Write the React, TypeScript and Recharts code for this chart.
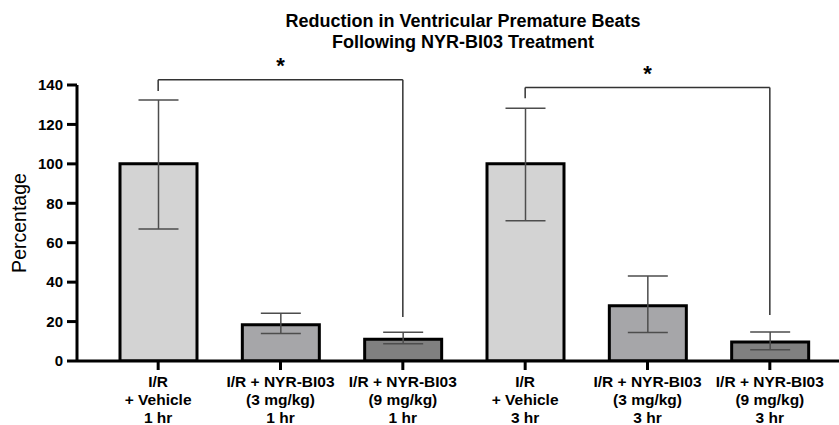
import { BarChart, Bar, XAxis, YAxis, ErrorBar, Cell, ReferenceLine } from 'recharts';

const groups = ['veh1', 'low1', 'high1', 'veh3', 'low3', 'high3'];
const labelLine1 = ['I/R', 'I/R + NYR-BI03', 'I/R + NYR-BI03', 'I/R', 'I/R + NYR-BI03', 'I/R + NYR-BI03'];
const labelLine2 = ['+ Vehicle', '(3 mg/kg)', '(9 mg/kg)', '+ Vehicle', '(3 mg/kg)', '(9 mg/kg)'];
const labelLine3 = ['1 hr', '1 hr', '1 hr', '3 hr', '3 hr', '3 hr'];
const percentage = [100, 18.4, 11, 100, 28, 9.6];
const errLow = [33, 4.5, 2.3, 28.8, 13.5, 3.9];
const errHigh = [32.4, 5.8, 3.6, 28.2, 15.1, 5.1];
const barColors = ['#d3d3d3', '#a6a6a9', '#808080', '#d3d3d3', '#a6a6a9', '#808080'];
const yTicks = [0, 20, 40, 60, 80, 100, 120, 140];

// significance brackets: horizontal at top, legs down to leftEnd / rightEnd
const brackets = [
  { from: 'veh1', to: 'high1', top: 142.6, leftEnd: 137, rightEnd: 22.3 },
  { from: 'veh3', to: 'high3', top: 138.7, leftEnd: 133.3, rightEnd: 23.3 },
];

const data = groups.map((g, i) => ({
  group: g,
  value: percentage[i],
  err: [errLow[i], errHigh[i]],
}));

function GroupTick(props: any) {
  const { x, y, payload } = props;
  const i = groups.indexOf(payload.value);
  const lines = [labelLine1[i], labelLine2[i], labelLine3[i]];
  return (
    <g>
      {lines.map((t, k) => (
        <text
          key={k}
          x={x}
          y={y + 15 + k * 18.2}
          textAnchor="middle"
          fontSize={15.5}
          fontWeight="bold"
          fill="#000"
        >
          {t}
        </text>
      ))}
    </g>
  );
}

export default function App() {
  return (
    <div
      style={{
        position: 'absolute',
        left: 0,
        top: 0,
        width: 839,
        height: 425,
        background: '#fff',
        fontFamily: '"Liberation Sans", Arial, sans-serif',
      }}
    >
      <div
        style={{
          position: 'absolute',
          left: 263,
          top: 11,
          width: 400,
          textAlign: 'center',
          fontSize: 18,
          fontWeight: 'bold',
          lineHeight: '21px',
          color: '#000',
        }}
      >
        Reduction in Ventricular Premature Beats
        <br />
        Following NYR-BI03 Treatment
      </div>
      <BarChart
        width={839}
        height={425}
        data={data}
        margin={{ top: 85, right: 0, bottom: 0, left: 0 }}
      >
        <XAxis
          dataKey="group"
          height={64}
          padding={{ left: 20, right: 8 }}
          axisLine={{ stroke: '#000', strokeWidth: 3 }}
          tickLine={{ stroke: '#000', strokeWidth: 3 }}
          tickSize={9}
          tickMargin={2}
          interval={0}
          tick={<GroupTick />}
        />
        <YAxis
          width={77}
          domain={[0, 140]}
          ticks={yTicks}
          allowDataOverflow
          axisLine={{ stroke: '#000', strokeWidth: 3 }}
          tickLine={{ stroke: '#000', strokeWidth: 3 }}
          tickSize={10}
          tickMargin={4}
          tick={{ fontSize: 15, fontWeight: 'bold', fill: '#000' }}
          label={{
            value: 'Percentage',
            content: () => (
              <text
                x={19}
                y={223}
                transform="rotate(-90, 19, 223)"
                textAnchor="middle"
                dominantBaseline="central"
                fontSize={19.5}
                fill="#000"
              >
                Percentage
              </text>
            ),
          }}
        />
        <Bar dataKey="value" barSize={77} stroke="#000" strokeWidth={3} isAnimationActive={false}>
          {data.map((d, i) => (
            <Cell key={d.group} fill={barColors[i]} />
          ))}
          <ErrorBar dataKey="err" width={20} stroke="#4d4d4d" strokeWidth={1.5} isAnimationActive={false} />
        </Bar>
        {brackets.map((b) => (
          <ReferenceLine
            key={b.from + '-h'}
            segment={[
              { x: b.from, y: b.top },
              { x: b.to, y: b.top },
            ]}
            ifOverflow="visible"
            stroke="#333"
            strokeWidth={1.5}
            label={{ value: '*', position: 'top', offset: 7, fontSize: 22, fontWeight: 'bold', fill: '#000' }}
          />
        ))}
        {brackets.map((b) => (
          <ReferenceLine
            key={b.from + '-l'}
            segment={[
              { x: b.from, y: b.top },
              { x: b.from, y: b.leftEnd },
            ]}
            ifOverflow="visible"
            stroke="#333"
            strokeWidth={1.5}
          />
        ))}
        {brackets.map((b) => (
          <ReferenceLine
            key={b.from + '-r'}
            segment={[
              { x: b.to, y: b.top },
              { x: b.to, y: b.rightEnd },
            ]}
            ifOverflow="visible"
            stroke="#333"
            strokeWidth={1.5}
          />
        ))}
      </BarChart>
    </div>
  );
}
